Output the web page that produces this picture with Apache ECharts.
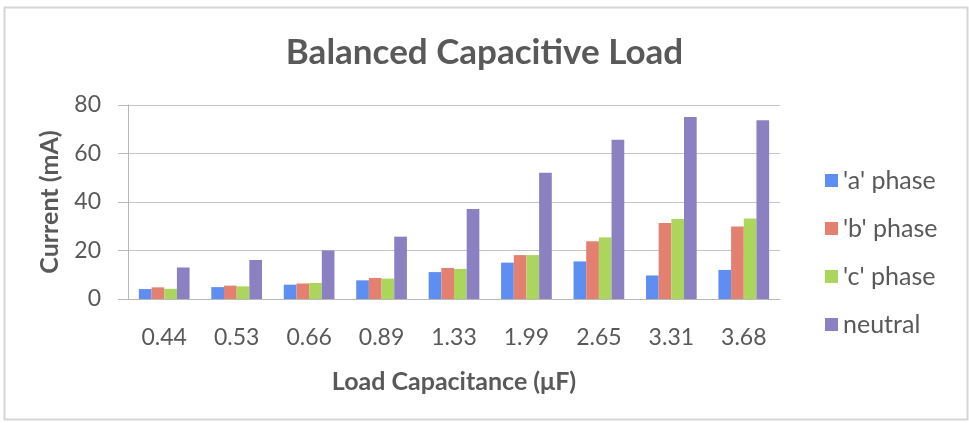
<!DOCTYPE html>
<html>
<head>
<meta charset="utf-8">
<script src="https://cdn.jsdelivr.net/npm/echarts@6/dist/echarts.min.js"></script>
<style>
html,body{margin:0;padding:0;background:#fff;}
#main{width:969px;height:423px;}
</style>
</head>
<body>
<div id="main"></div>
<script>
// load capacitance categories (uF)
var capacitance = ['0.44', '0.53', '0.66', '0.89', '1.33', '1.99', '2.65', '3.31', '3.68'];
var seriesNames = ["'a' phase", "'b' phase", "'c' phase", 'neutral'];
// currents in mA
var phaseA = [4.1, 4.9, 5.9, 7.7, 11.1, 15.0, 15.5, 9.7, 12.0];
var phaseB = [4.8, 5.5, 6.4, 8.7, 12.8, 18.1, 23.8, 31.3, 29.9];
var phaseC = [4.2, 5.2, 6.6, 8.4, 12.4, 18.1, 25.4, 33.0, 33.2];
var neutral = [13.0, 16.1, 20.0, 25.7, 37.1, 52.1, 65.7, 75.1, 73.7];
var yTicks = [0, 20, 40, 60, 80];

var colors = ['#5f8ef2', '#e3806f', '#acd55e', '#8a80c2'];
var textGray = '#595959';
var font = 'Lato, "Open Sans", sans-serif';

var allData = [phaseA, phaseB, phaseC, neutral];
var series = [];
for (var i = 0; i < seriesNames.length; i++) {
    series.push({
        name: seriesNames[i],
        type: 'bar',
        data: allData[i],
        barGap: '0%',
        barCategoryGap: '30%',
        itemStyle: {color: colors[i]}
    });
}

var option = {
    backgroundColor: '#fff',
    animation: false,
    color: colors,
    title: {
        text: 'Balanced Capacitive Load',
        left: 'center',
        top: 30,
        textStyle: {fontFamily: font, fontSize: 35, fontWeight: 'bold', color: textGray}
    },
    legend: {
        orient: 'vertical',
        left: 820,
        top: 163,
        itemWidth: 13,
        itemHeight: 13,
        itemGap: 23,
        icon: 'rect',
        data: seriesNames,
        textStyle: {fontFamily: font, fontSize: 25, color: textGray}
    },
    grid: {left: 128, right: 189, top: 105, bottom: 124},
    xAxis: {
        type: 'category',
        data: capacitance,
        name: 'Load Capacitance (\u03bcF)',
        nameLocation: 'middle',
        nameGap: 70,
        nameTextStyle: {fontFamily: font, fontSize: 25, fontWeight: 'bold', color: textGray},
        axisLine: {lineStyle: {color: '#b8b8b8'}},
        axisTick: {show: false},
        axisLabel: {fontFamily: font, fontSize: 23, color: textGray, margin: 27}
    },
    yAxis: {
        type: 'value',
        min: yTicks[0],
        max: yTicks[yTicks.length - 1],
        interval: 20,
        name: 'Current (mA)',
        nameLocation: 'middle',
        nameGap: 66,
        nameRotate: 90,
        nameTextStyle: {fontFamily: font, fontSize: 25, fontWeight: 'bold', color: textGray},
        axisLine: {show: true, lineStyle: {color: '#b8b8b8'}},
        axisTick: {show: true, length: 10, lineStyle: {color: '#b8b8b8'}},
        axisLabel: {fontFamily: font, fontSize: 23, color: textGray, margin: 27},
        splitLine: {lineStyle: {color: '#c4c4c4'}}
    },
    graphic: [{
        type: 'rect',
        left: 2,
        top: 5,
        shape: {width: 963, height: 412},
        style: {fill: 'none', stroke: '#d6d6d6', lineWidth: 2},
        silent: true
    }],
    series: series
};

var myChart = echarts.init(document.getElementById('main'));
myChart.setOption(option);
</script>
</body>
</html>
